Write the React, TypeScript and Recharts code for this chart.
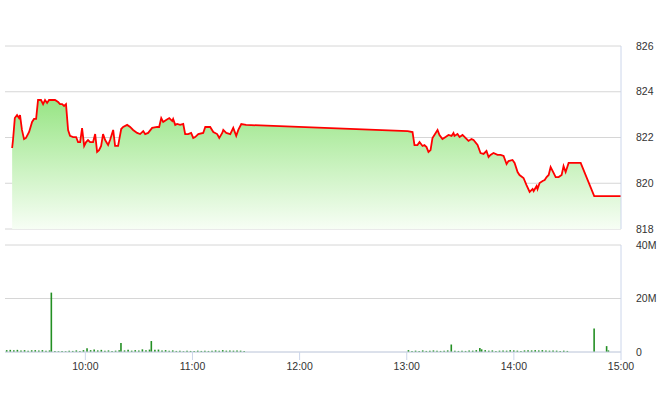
import React from "react";
import {
  AreaChart,
  Area,
  BarChart,
  Bar,
  XAxis,
  YAxis,
  CartesianGrid,
} from "recharts";

// ---- Data ----
const priceTimes: string[] = [
  "09:19:00", "09:19:30", "09:20:30", "09:21:45", "09:22:50", "09:23:25", "09:24:30", "09:25:40", "09:26:45", "09:28:30",
  "09:30:10", "09:31:15", "09:32:25", "09:33:30", "09:35:10", "09:36:20", "09:37:25", "09:38:35", "09:39:40", "09:41:20",
  "09:43:00", "09:44:45", "09:45:50", "09:47:00", "09:48:05", "09:49:10", "09:50:20", "09:51:25", "09:53:10", "09:54:50",
  "09:55:55", "09:57:05", "09:58:10", "09:59:20", "10:00:25", "10:01:30", "10:02:40", "10:04:20", "10:05:30", "10:06:35",
  "10:07:40", "10:08:50", "10:09:55", "10:11:05", "10:12:45", "10:13:50", "10:15:35", "10:16:40", "10:18:20", "10:20:05",
  "10:21:10", "10:23:25", "10:25:05", "10:26:45", "10:29:00", "10:30:40", "10:32:25", "10:33:30", "10:35:10", "10:37:25",
  "10:40:15", "10:41:20", "10:42:30", "10:43:35", "10:45:15", "10:47:00", "10:48:40", "10:49:10", "10:50:20", "10:51:25",
  "10:53:05", "10:54:50", "10:55:55", "10:57:35", "10:59:15", "11:00:25", "11:01:30", "11:03:15", "11:06:00", "11:07:10",
  "11:09:55", "11:11:40", "11:13:50", "11:15:00", "11:16:40", "11:17:15", "11:18:55", "11:21:10", "11:22:50", "11:24:30",
  "11:25:40", "11:27:20", "11:30:00", "13:00:30", "13:03:15", "13:04:20", "13:06:00", "13:07:10", "13:08:50", "13:09:55",
  "13:11:05", "13:12:10", "13:13:20", "13:14:25", "13:17:15", "13:18:20", "13:20:00", "13:21:45", "13:23:25", "13:25:05",
  "13:26:10", "13:26:45", "13:28:25", "13:29:35", "13:31:15", "13:32:55", "13:34:35", "13:36:15", "13:37:25", "13:39:40",
  "13:41:20", "13:43:00", "13:44:40", "13:45:50", "13:46:55", "13:48:35", "13:50:50", "13:52:35", "13:54:15", "13:55:55",
  "13:57:00", "13:59:15", "14:00:25", "14:02:05", "14:03:10", "14:05:25", "14:07:05", "14:08:50", "14:10:30", "14:11:05",
  "14:12:45", "14:13:15", "14:14:25", "14:16:05", "14:17:15", "14:18:20", "14:19:30", "14:20:35", "14:22:15", "14:23:25",
  "14:25:05", "14:26:45", "14:27:50", "14:29:00", "14:30:40", "14:36:15", "14:37:25", "14:45:00", "15:00:00",
];

const priceValues: number[] = [
  821.54, 821.9, 822.85, 822.98, 822.85, 822.98, 822.33, 821.93, 821.98, 822.24,
  822.68, 822.81, 822.81, 823.64, 823.64, 823.46, 823.64, 823.51, 823.64, 823.64,
  823.64, 823.55, 823.46, 823.46, 823.38, 823.46, 822.33, 822.07, 822.02, 822.02,
  821.8, 821.8, 822.41, 821.63, 821.8, 821.89, 821.8, 821.8, 822.15, 821.37,
  821.45, 821.63, 822.15, 821.89, 821.67, 821.89, 822.33, 821.63, 821.63, 822.37,
  822.46, 822.55, 822.46, 822.33, 822.2, 822.15, 822.28, 822.15, 822.2, 822.42,
  822.46, 822.46, 822.85, 822.68, 822.77, 822.85, 822.72, 822.81, 822.55, 822.59,
  822.55, 822.59, 822.15, 822.15, 822.2, 821.98, 822.02, 822.15, 822.2, 822.46,
  822.46, 822.24, 822.15, 821.98, 822.2, 822.33, 822.2, 822.15, 822.42, 822.07,
  822.33, 822.59, 822.55, 822.28, 822.24, 821.67, 821.67, 821.8, 821.63, 821.67,
  821.58, 821.37, 821.45, 821.98, 822.33, 822.11, 821.93, 822.02, 822.11, 822.07,
  822.2, 822.07, 822.15, 822.02, 822.11, 821.98, 821.85, 821.93, 821.89, 821.67,
  821.32, 821.28, 821.41, 821.15, 821.24, 821.32, 821.24, 821.24, 821.19, 820.84,
  820.97, 821.02, 820.89, 820.49, 820.36, 820.23, 819.92, 819.62, 819.75, 819.66,
  819.88, 819.75, 820.01, 820.1, 820.14, 820.27, 820.36, 820.71, 820.45, 820.27,
  820.27, 820.36, 820.75, 820.49, 820.89, 820.89, 820.89, 819.44, 819.44,
];

const volumeTimes: string[] = [
  "09:16", "09:18", "09:20", "09:22", "09:24", "09:26", "09:28", "09:30", "09:32", "09:34",
  "09:36", "09:38", "09:40", "09:41", "09:43", "09:45", "09:47", "09:49", "09:51", "09:53",
  "09:55", "09:57", "09:59", "10:01", "10:03", "10:05", "10:07", "10:09", "10:11", "10:13",
  "10:15", "10:17", "10:19", "10:20", "10:22", "10:24", "10:26", "10:28", "10:30", "10:32",
  "10:34", "10:36", "10:37", "10:39", "10:41", "10:43", "10:45", "10:47", "10:49", "10:51",
  "10:53", "10:55", "10:57", "10:59", "11:01", "11:03", "11:05", "11:07", "11:09", "11:11",
  "11:13", "11:15", "11:17", "11:19", "11:21", "11:23", "11:25", "11:27", "11:29",
  "13:01", "13:03", "13:05", "13:07", "13:09", "13:11", "13:13", "13:15", "13:17", "13:19",
  "13:21", "13:23", "13:25", "13:27", "13:29", "13:31", "13:33", "13:35", "13:37", "13:39",
  "13:41", "13:42", "13:44", "13:46", "13:48", "13:50", "13:52", "13:54", "13:56", "13:58",
  "14:00", "14:02", "14:04", "14:06", "14:08", "14:10", "14:12", "14:14", "14:16", "14:18",
  "14:20", "14:22", "14:24", "14:26", "14:28", "14:30", "14:45", "14:52", "14:53",
];

// millions of shares
const volumeValues: number[] = [
  0.7, 0.8, 0.7, 0.8, 0.6, 0.7, 0.5, 0.7, 0.7, 0.6,
  0.7, 0.5, 0.6, 22.2, 0.4, 0.3, 0.4, 0.3, 0.5, 0.4,
  0.6, 0.4, 0.7, 1.4, 0.7, 0.9, 0.6, 0.8, 0.5, 0.6,
  0.4, 0.5, 0.7, 3.4, 0.6, 0.8, 0.5, 0.7, 0.6, 1.0,
  0.7, 0.9, 4.1, 0.8, 0.9, 0.6, 0.7, 0.5, 0.6, 0.4,
  0.5, 0.3, 0.5, 0.4, 0.4, 0.5, 0.4, 0.5, 0.4, 0.5,
  0.6, 0.5, 0.7, 0.5, 0.6, 0.5, 0.6, 0.5, 0.4,
  0.7, 0.4, 0.5, 0.4, 0.6, 0.4, 0.5, 0.6, 0.5, 0.4,
  0.5, 0.6, 2.8, 0.5, 0.4, 0.5, 0.4, 0.6, 0.5, 0.7,
  1.5, 1.0, 0.7, 0.5, 0.6, 0.4, 0.5, 0.6, 0.5, 0.7,
  0.6, 0.5, 0.4, 0.6, 0.7, 0.6, 0.7, 0.6, 0.7, 0.6,
  0.5, 0.6, 0.5, 0.4, 0.5, 0.4, 8.8, 2.2, 0.6,
];

const timeTickLabels: string[] = ["10:00", "11:00", "12:00", "13:00", "14:00", "15:00"];
const priceTicks: number[] = [818, 820, 822, 824, 826];
const volumeTicks: number[] = [0, 20, 40];
const timeDomainLabels: string[] = ["09:15", "15:00"];

// ---- helpers ----
const toMin = (s: string): number => {
  const p = s.split(":").map(Number);
  return p[0] * 60 + p[1] + (p[2] || 0) / 60;
};
const fmtTime = (m: number): string => {
  const h = Math.floor(m / 60);
  const mm = Math.round(m - h * 60);
  return `${h}:${mm < 10 ? "0" + mm : mm}`;
};

const priceData = priceTimes.map((t, i) => ({ t: toMin(t), v: priceValues[i] }));
const volumeData = volumeTimes.map((t, i) => ({ t: toMin(t), v: volumeValues[i] }));
const timeTicks = timeTickLabels.map(toMin);
const timeDomain: [number, number] = [toMin(timeDomainLabels[0]), toMin(timeDomainLabels[1])];

const FONT = "'Liberation Sans', Arial, sans-serif";
const tickStyle = { fill: "#333", fontSize: 10.5, fontFamily: FONT };
const BORDER = "#ccd6eb";

export default function App() {
  return (
    <div
      style={{
        position: "fixed",
        left: 0,
        top: 0,
        width: 660,
        height: 412,
        background: "#fff",
        fontFamily: FONT,
      }}
    >
      <div style={{ position: "absolute", left: 0, top: 0 }}>
        <AreaChart
          width={660}
          height={240}
          data={priceData}
          margin={{ top: 46, right: 0, left: 5, bottom: 11 }}
        >
          <defs>
            <linearGradient id="priceFill" x1="0" y1="0" x2="0" y2="1">
              <stop offset="0%" stopColor="#98e585" />
              <stop offset="55%" stopColor="#cdf3c3" />
              <stop offset="100%" stopColor="#f7fef5" />
            </linearGradient>
          </defs>
          <CartesianGrid vertical={false} stroke="#d6d6d6" />
          <XAxis
            type="number"
            dataKey="t"
            domain={timeDomain}
            allowDataOverflow
            hide
          />
          <YAxis
            orientation="right"
            type="number"
            domain={[818, 826]}
            ticks={priceTicks}
            allowDataOverflow
            width={39}
            axisLine={{ stroke: BORDER }}
            tickLine={false}
            tickMargin={9}
            tick={tickStyle}
          />
          <Area
            type="linear"
            dataKey="v"
            stroke="#ff0000"
            strokeWidth={1.8}
            fill="url(#priceFill)"
            fillOpacity={1}
            dot={false}
            activeDot={false}
            isAnimationActive={false}
          />
        </AreaChart>
      </div>
      <div style={{ position: "absolute", left: 0, top: 230 }}>
        <BarChart
          width={660}
          height={182}
          data={volumeData}
          margin={{ top: 15, right: 0, left: 5, bottom: 30 }}
        >
          <CartesianGrid vertical={false} stroke="#d6d6d6" />
          <XAxis
            type="number"
            dataKey="t"
            domain={timeDomain}
            allowDataOverflow
            ticks={timeTicks}
            tickFormatter={fmtTime}
            height={30}
            axisLine={{ stroke: BORDER }}
            tickLine={{ stroke: BORDER }}
            tickSize={8}
            tickMargin={3}
            tick={tickStyle}
            interval={0}
          />
          <YAxis
            orientation="right"
            type="number"
            domain={[0, 40]}
            ticks={volumeTicks}
            allowDataOverflow
            width={39}
            axisLine={{ stroke: BORDER }}
            tickLine={false}
            tickMargin={9}
            tick={tickStyle}
            tickFormatter={(v: number) => (v === 0 ? "0" : `${v}M`)}
          />
          <Bar dataKey="v" fill="#238f23" barSize={1.6} isAnimationActive={false} />
        </BarChart>
      </div>
    </div>
  );
}
